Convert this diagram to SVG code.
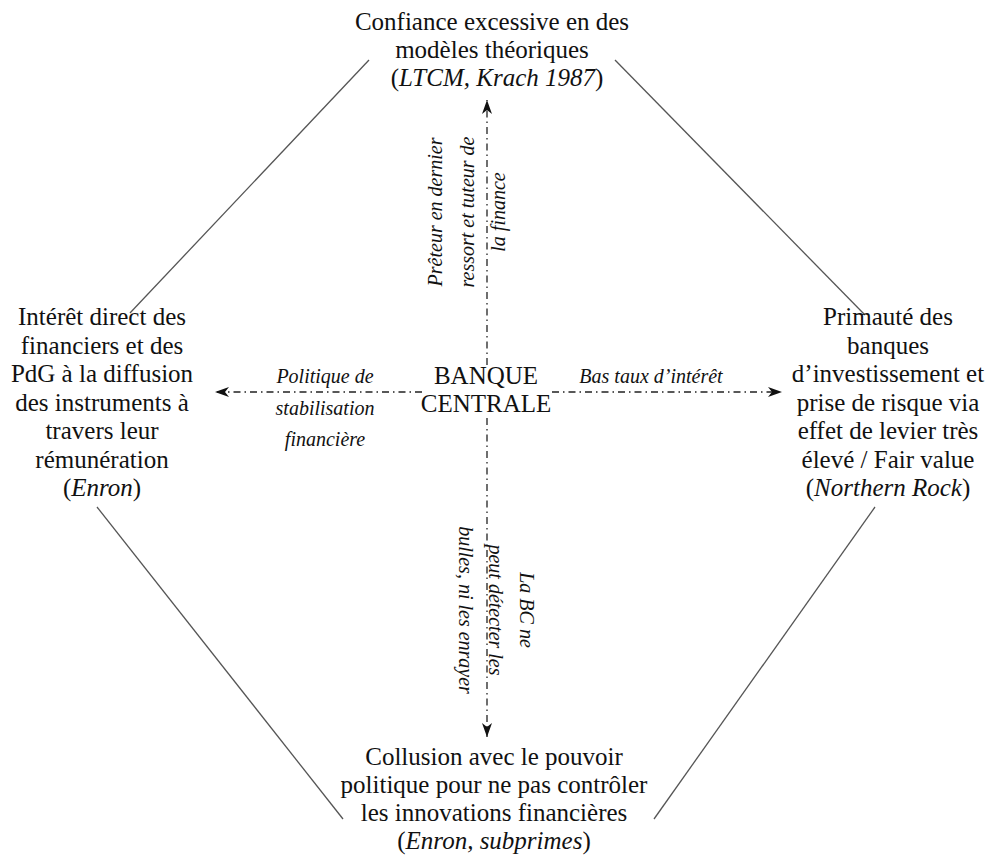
<svg xmlns="http://www.w3.org/2000/svg" width="986" height="856" viewBox="0 0 986 856">
<defs>
<style>
.t{font-family:"Liberation Serif","Times New Roman",serif;font-size:25px;fill:#111;text-anchor:middle}
.l{font-family:"Liberation Serif","Times New Roman",serif;font-size:20px;font-style:italic;fill:#111;text-anchor:middle}
.i{font-style:italic}
.diag{stroke:#555;stroke-width:1.3;fill:none}
.arr{stroke:#222;stroke-width:1.3;fill:none;stroke-dasharray:7 4 1.5 4;marker-end:url(#ah)}
</style>
<marker id="ah" markerUnits="userSpaceOnUse" markerWidth="16" markerHeight="12" refX="14" refY="5" orient="auto">
<path d="M0,0 L14,5 L0,10 L4,5 Z" fill="#111"/>
</marker>
</defs>
<rect width="986" height="856" fill="#fff"/>
<g id="connectors">
<line class="diag" x1="369" y1="60" x2="130" y2="313"/>
<line class="diag" x1="615" y1="60" x2="865" y2="315"/>
<line class="diag" x1="97" y1="507" x2="343" y2="819"/>
<line class="diag" x1="875" y1="507" x2="654" y2="819"/>
<line class="arr" x1="487" y1="365" x2="487" y2="100"/>
<line class="arr" x1="487" y1="418" x2="487" y2="737"/>
<line class="arr" x1="422" y1="392" x2="215" y2="392"/>
<line class="arr" x1="552" y1="392" x2="782" y2="392"/>
</g>
<g id="edge-labels">
<g transform="translate(0,212) rotate(-90)">
<text class="l" x="0" y="442">Prêteur en dernier</text>
<text class="l" x="0" y="474">ressort et tuteur de</text>
<text class="l" x="0" y="505">la finance</text>
</g>
<g transform="translate(0,610) rotate(90)">
<text class="l" x="0" y="-520">La BC ne</text>
<text class="l" x="0" y="-489">peut détecter les</text>
<text class="l" x="0" y="-459">bulles, ni les enrayer</text>
</g>
<text class="l" x="325" y="383">Politique de</text>
<text class="l" x="325" y="415">stabilisation</text>
<text class="l" x="325" y="446">financière</text>
<text class="l" x="651" y="383">Bas taux d’intérêt</text>
</g>
<g id="node-center">
<text class="t" x="486" y="384">BANQUE</text>
<text class="t" x="486" y="412">CENTRALE</text>
</g>
<g id="node-top">
<text class="t" x="492" y="30">Confiance excessive en des</text>
<text class="t" x="492" y="58">modèles théoriques</text>
<text class="t" x="497" y="86">(<tspan class="i">LTCM, Krach 1987</tspan>)</text>
</g>
<g id="node-left">
<text class="t" x="102" y="325">Intérêt direct des</text>
<text class="t" x="102" y="353.5">financiers et des</text>
<text class="t" x="102" y="382">PdG à la diffusion</text>
<text class="t" x="102" y="410.5">des instruments à</text>
<text class="t" x="102" y="439">travers leur</text>
<text class="t" x="102" y="467.5">rémunération</text>
<text class="t" x="102" y="496">(<tspan class="i">Enron</tspan>)</text>
</g>
<g id="node-right">
<text class="t" x="888" y="325">Primauté des</text>
<text class="t" x="888" y="353.5">banques</text>
<text class="t" x="888" y="382">d’investissement et</text>
<text class="t" x="888" y="410.5">prise de risque via</text>
<text class="t" x="888" y="439">effet de levier très</text>
<text class="t" x="888" y="467.5">élevé / Fair value</text>
<text class="t" x="888" y="496">(<tspan class="i">Northern Rock</tspan>)</text>
</g>
<g id="node-bottom">
<text class="t" x="494" y="765">Collusion avec le pouvoir</text>
<text class="t" x="494" y="793">politique pour ne pas contrôler</text>
<text class="t" x="494" y="821">les innovations financières</text>
<text class="t" x="494" y="849">(<tspan class="i">Enron, subprimes</tspan>)</text>
</g>
</svg>
